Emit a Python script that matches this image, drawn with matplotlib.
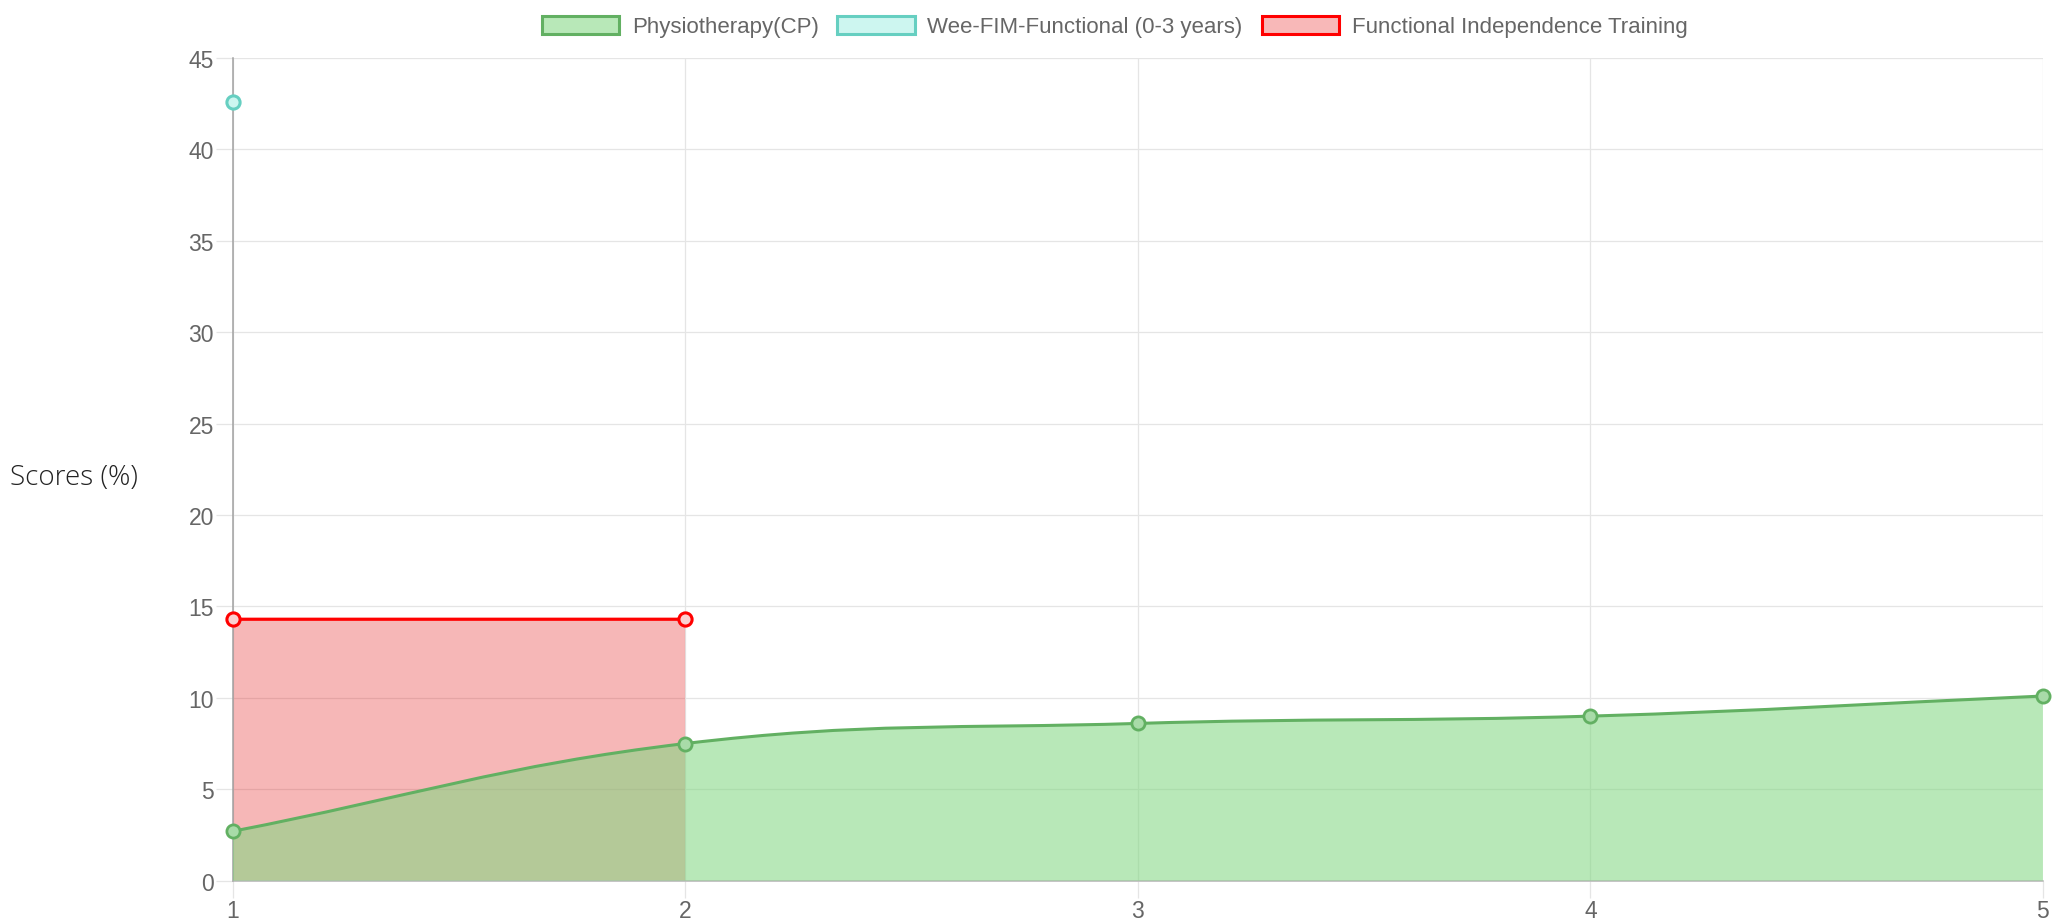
import numpy as np
import matplotlib
matplotlib.use("Agg")
import matplotlib.pyplot as plt
from matplotlib.path import Path
from matplotlib.patches import PathPatch, Patch

sessions = [1, 2, 3, 4, 5]
physio = [2.7, 7.5, 8.6, 9.0, 10.1]
weefim_x = [1]
weefim = [42.6]
fit_x = [1, 2]
fit = [14.3, 14.3]
labels = ["Physiotherapy(CP)", "Wee-FIM-Functional (0-3 years)", "Functional Independence Training"]
y_ticks = [0, 5, 10, 15, 20, 25, 30, 35, 40, 45]

green_line = "#62b062"
green_fill = (130 / 255, 215 / 255, 130 / 255, 0.57)
teal_line = "#66cfc1"
teal_fill = "#cdf6f0"
red_line = "#ff0000"
red_fill = (228 / 255, 18 / 255, 18 / 255, 0.3)
grid_c = "#e5e5e5"
txt_c = "#666666"

fig = plt.figure(figsize=(20.6, 9.2), dpi=100)
ax = fig.add_axes([0.1129, 0.0417, 0.8788, 0.8941])
ax.set_xlim(1, 5)
ax.set_ylim(0, 45)


def bezier_path(xs, ys, tension=0.4, close_to=None):
    # chart.js style spline, control points computed in pixel space
    pts = ax.transData.transform(np.column_stack([xs, ys]))
    n = len(pts)
    cps = []
    for i in range(n):
        p0 = pts[max(i - 1, 0)]
        p1 = pts[i]
        p2 = pts[min(i + 1, n - 1)]
        d01 = np.hypot(*(p1 - p0))
        d12 = np.hypot(*(p2 - p1))
        tot = d01 + d12
        s01 = d01 / tot if tot else 0
        s12 = d12 / tot if tot else 0
        cps.append((p1 - tension * s01 * (p2 - p0), p1 + tension * s12 * (p2 - p0)))
    verts = [pts[0]]
    codes = [Path.MOVETO]
    for i in range(1, n):
        verts += [cps[i - 1][1], cps[i][0], pts[i]]
        codes += [Path.CURVE4] * 3
    inv = ax.transData.inverted()
    verts = list(inv.transform(np.array(verts)))
    if close_to is not None:
        verts += [(xs[-1], close_to), (xs[0], close_to), (xs[0], ys[0])]
        codes += [Path.LINETO, Path.LINETO, Path.CLOSEPOLY]
    return Path(np.array(verts), codes)


# fills (red under green, like chart.js draws first dataset on top)
ax.add_patch(PathPatch(bezier_path(fit_x, fit, close_to=0), facecolor=red_fill,
                       edgecolor="none", zorder=2))
ax.add_patch(PathPatch(bezier_path(sessions, physio, close_to=0), facecolor=green_fill,
                       edgecolor="none", zorder=3))

ax.add_patch(PathPatch(bezier_path(fit_x, fit), facecolor="none", edgecolor=red_line,
                       lw=2.3, zorder=4, clip_on=False))
ax.add_patch(PathPatch(bezier_path(sessions, physio), facecolor="none", edgecolor=green_line,
                       lw=2.2, zorder=5, clip_on=False))

ax.plot(fit_x, fit, "o", ms=9.5, mfc="#fbd0d0", mec=red_line, mew=2.2, zorder=6, clip_on=False)
ax.plot(sessions, physio, "o", ms=9.5, mfc="#a8dba8", mec=green_line, mew=2.0, zorder=7, clip_on=False)
ax.plot(weefim_x, weefim, "o", ms=9.5, mfc=teal_fill, mec=teal_line, mew=2.2, zorder=7, clip_on=False)

ax.set_axisbelow(True)
ax.grid(True, color=grid_c, lw=0.9)
ax.set_xticks(sessions)
ax.set_xticklabels([str(s) for s in sessions])
ax.set_yticks(y_ticks)
ax.tick_params(axis="both", length=12, width=0.9, color=grid_c, labelcolor=txt_c,
               labelsize=16.5, pad=1.5)
for lab in ax.get_xticklabels() + ax.get_yticklabels():
    lab.set_fontfamily("Liberation Sans")

for s in ["top", "right"]:
    ax.spines[s].set_visible(False)
ax.spines["left"].set_color("#a0a0a0")
ax.spines["bottom"].set_color("#b4b4b4")
ax.spines["left"].set_linewidth(1.1)
ax.spines["bottom"].set_linewidth(1.1)

fig.text(0.005, 0.48, "Scores (%)", fontsize=20, family="Open Sans", color="#222222",
         va="center", ha="left", fontweight="light")

handles = [
    Patch(facecolor="#b8e8b8", edgecolor=green_line, lw=2.2),
    Patch(facecolor=teal_fill, edgecolor=teal_line, lw=2.2),
    Patch(facecolor="#f8b8b8", edgecolor=red_line, lw=2.2),
]
fig.legend(handles, labels, loc="center", bbox_to_anchor=(0.541, 0.970), ncol=3,
           frameon=False, prop={"family": "Liberation Sans", "size": 16},
           labelcolor=txt_c, handlelength=3.5, handleheight=0.85,
           handletextpad=0.55, columnspacing=0.85, borderpad=0)

fig.savefig("out.png", dpi=100)
